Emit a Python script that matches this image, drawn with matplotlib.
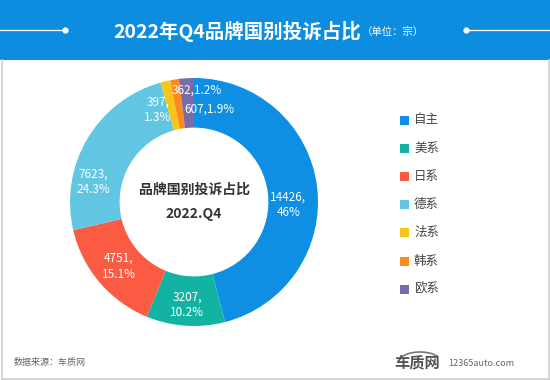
import numpy as np
import matplotlib
matplotlib.use("Agg")
import matplotlib.pyplot as plt
from matplotlib.patches import Rectangle, Arc

plt.rcParams['font.family'] = ['Noto Sans CJK SC', 'DejaVu Sans']

# ---- data ----
categories = ['自主', '美系', '日系', '德系', '法系', '韩系', '欧系']
values = [14426, 3207, 4751, 7623, 397, 362, 607]
colors = ['#0f8fe3', '#13b3a4', '#fb5b42', '#61c6e2', '#f6c51a', '#fb8b1c', '#7a6ca6']
title = '2022年Q4品牌国别投诉占比'
unit = '（单位：宗）'
center_text = '品牌国别投诉占比'
center_sub = '2022.Q4'
source = '数据来源：车质网'

# label layout tweaks (angle offset in degrees, radius fraction, separator)
label_layout = [(-9, 0.76, ',\n'), (0, 0.83, ',\n'), (0, 0.80, ',\n'), (19.4, 0.83, ',\n'),
                (8, 0.80, ',\n'), (-10.5, 0.90, ','), (-12.7, 0.76, ',')]

W, H = 550, 380
fig = plt.figure(figsize=(W / 100, H / 100), dpi=100)
fig.patch.set_facecolor('white')

# background / banner
bg = fig.add_axes([0, 0, 1, 1])
bg.set_xlim(0, W)
bg.set_ylim(H, 0)
bg.axis('off')
bg.add_patch(Rectangle((0, 0), W, 60, facecolor='#0d8de0', edgecolor='none'))
# card border
bg.plot([1.5, 1.5], [60, 378.5], color='#cfcfcf', lw=1.2)
bg.plot([548.5, 548.5], [60, 378.5], color='#cfcfcf', lw=1.2)
bg.plot([1.5, 548.5], [378.5, 378.5], color='#cfcfcf', lw=1.2)
# banner decoration lines
bg.plot([0, 65], [30, 30], color='white', lw=0.9)
bg.plot([65], [30], 'o', color='white', ms=3.5)
bg.plot([466, 550], [30, 30], color='white', lw=0.9)
bg.plot([466], [30], 'o', color='white', ms=3.5)
bg.text(237, 31, title, color='white', fontsize=14, fontweight='bold', ha='center', va='center')
bg.text(393, 32, unit, color='white', fontsize=7.5, ha='center', va='center')

# footer
bg.text(14, 363, source, color='#666666', fontsize=6.5, ha='left', va='center')
bg.text(417, 362, '车质网', color='#555555', fontsize=11, fontweight='bold', ha='center', va='center')
bg.add_patch(Arc((420, 363), 44, 22, theta1=200, theta2=340, color='#777777', lw=1.2))
bg.text(448, 363, '12365auto.com', color='#666666', fontsize=6.5, ha='left', va='center')

# legend
for i, (cat, col) in enumerate(zip(categories, colors)):
    y = 120 + i * 28.2
    bg.add_patch(Rectangle((400, y - 4.5), 9, 9, facecolor=col, edgecolor='none'))
    bg.text(414, y, cat, color='#444444', fontsize=9, ha='left', va='center')

# donut
cx, cy, R = 194, 202, 124
ax = fig.add_axes([(cx - R) / W, (H - cy - R) / H, 2 * R / W, 2 * R / H])
wedges, _ = ax.pie(values, colors=colors, radius=1, startangle=90, counterclock=False,
                   wedgeprops=dict(width=0.4, edgecolor='none'))
ax.set_xlim(-1, 1)
ax.set_ylim(-1, 1)
ax.axis('off')

total = sum(values)
for w, v, (dang, rf, sep) in zip(wedges, values, label_layout):
    mid = np.deg2rad((w.theta1 + w.theta2) / 2 + dang)
    pct = f"{v / total * 100:.1f}".rstrip('0').rstrip('.')
    ax.text(rf * np.cos(mid), rf * np.sin(mid), f"{v}{sep}{pct}%", color='white',
            fontsize=8.5, ha='center', va='center', linespacing=1.25)

ax.text(0, 0.1, center_text, color='#333333', fontsize=10, fontweight='bold', ha='center', va='center')
ax.text(0, -0.1, center_sub, color='#333333', fontsize=10, fontweight='bold', ha='center', va='center')

fig.savefig('out.png', dpi=100)
